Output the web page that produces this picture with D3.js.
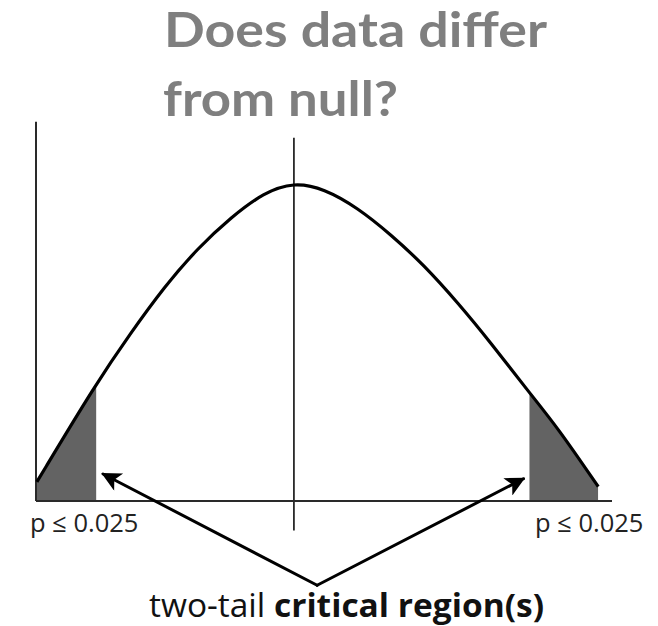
<!DOCTYPE html>
<html>
<head>
<meta charset="utf-8">
<script src="https://cdn.jsdelivr.net/npm/d3@7"></script>
<style>
  body { margin: 0; background: #fff; }
  svg { display: block; }
</style>
</head>
<body>
<svg id="chart" width="658" height="626"></svg>
<script>
// Null distribution, sampled along the test statistic (z) axis
const curveZ       = [-2.99, -2.30, -1.90, -1.51, -1.12, -0.73, -0.35, 0.00, 0.35, 0.74, 1.13, 1.51, 1.91, 2.29, 2.74, 3.07, 3.54];
const curveDensity = [0.024, 0.148, 0.211, 0.269, 0.318, 0.357, 0.388, 0.401, 0.393, 0.369, 0.335, 0.297, 0.249, 0.199, 0.136, 0.092, 0.018];

// Rejection regions in each tail
const criticalLeft  = [-2.99, -2.30];
const criticalRight = [2.74, 3.54];
const tailLabels = ["p \u2264 0.025", "p \u2264 0.025"];

const titleLines = ["Does data differ", "from null?"];
const captionPlain = "two-tail ";
const captionBold = "critical region(s)";

// Annotation arrows: shared origin under the axis, one head pointing at each tail
const arrowOrigin = [0.27, -0.106];
const arrowTips = [[-2.22, 0.034], [2.67, 0.028]];

const svg = d3.select("#chart");
const x = d3.scaleLinear().domain([-3, 3.7]).range([36, 612]);
const y = d3.scaleLinear().domain([0, 0.4]).range([501, 183]);

const pts = curveZ.map((z, i) => [z, curveDensity[i]]);
const curveType = d3.curveBasis;

// Title
const title = svg.append("g")
  .attr("font-family", "Lato, 'Open Sans', sans-serif")
  .attr("font-weight", 700)
  .attr("font-size", 47)
  .attr("fill", "#7f7f7f");
const titleLayout = [{ x: 164, y: 47, w: 383 }, { x: 163, y: 116, w: 235 }];
titleLines.forEach((t, i) => {
  title.append("text")
    .attr("x", titleLayout[i].x)
    .attr("y", titleLayout[i].y)
    .attr("textLength", titleLayout[i].w)
    .attr("lengthAdjust", "spacingAndGlyphs")
    .text(t);
});

// Shaded critical regions (area under the curve clipped to each tail)
const defs = svg.append("defs");
[criticalLeft, criticalRight].forEach((r, i) => {
  defs.append("clipPath").attr("id", "tail" + i)
    .append("rect")
    .attr("x", x(r[0]))
    .attr("width", x(r[1]) - x(r[0]))
    .attr("y", 0)
    .attr("height", y(0));
});
const area = d3.area().x(d => x(d[0])).y0(y(0)).y1(d => y(d[1])).curve(curveType);
[0, 1].forEach(i => {
  svg.append("path")
    .datum(pts)
    .attr("d", area)
    .attr("fill", "#636363")
    .attr("clip-path", `url(#tail${i})`);
});

// Axes: vertical axis on the left, baseline, and the centre line at the null mean
const axisColor = "#2a2a2a";
svg.append("line")
  .attr("x1", x(-3)).attr("x2", x(-3))
  .attr("y1", y(0)).attr("y2", y(0.477))
  .attr("stroke", axisColor).attr("stroke-width", 2);
svg.append("line")
  .attr("x1", x(-3)).attr("x2", x(3.7))
  .attr("y1", y(0)).attr("y2", y(0))
  .attr("stroke", axisColor).attr("stroke-width", 2);
svg.append("line")
  .attr("x1", x(0)).attr("x2", x(0))
  .attr("y1", y(0.457)).attr("y2", y(-0.037))
  .attr("stroke", axisColor).attr("stroke-width", 1.8);

// Density curve
const line = d3.line().x(d => x(d[0])).y(d => y(d[1])).curve(curveType);
svg.append("path")
  .datum(pts)
  .attr("d", line)
  .attr("fill", "none")
  .attr("stroke", "#000")
  .attr("stroke-width", 3.2);

// Tail labels
const labelG = svg.append("g")
  .attr("font-family", "'Open Sans', sans-serif")
  .attr("font-size", 25.5)
  .attr("fill", "#222");
labelG.append("text").attr("x", 30).attr("y", 532).text(tailLabels[0]);
labelG.append("text").attr("x", 535).attr("y", 532).text(tailLabels[1]);

// Arrows
defs.append("marker")
  .attr("id", "head")
  .attr("viewBox", "0 0 10 10")
  .attr("refX", 9).attr("refY", 5)
  .attr("markerWidth", 8).attr("markerHeight", 6.5)
  .attr("markerUnits", "strokeWidth")
  .attr("orient", "auto")
  .append("path")
  .attr("d", "M0,0 L10,5 L0,10 L2.5,5 Z")
  .attr("fill", "#000");
arrowTips.forEach(t => {
  svg.append("line")
    .attr("x1", x(arrowOrigin[0])).attr("y1", y(arrowOrigin[1]))
    .attr("x2", x(t[0])).attr("y2", y(t[1]))
    .attr("stroke", "#000")
    .attr("stroke-width", 3)
    .attr("stroke-linecap", "round")
    .attr("marker-end", "url(#head)");
});

// Caption
const cap = svg.append("text")
  .attr("x", 149).attr("y", 617)
  .attr("font-family", "'Open Sans', sans-serif")
  .attr("font-size", 32)
  .attr("fill", "#111")
  .attr("textLength", 395)
  .attr("lengthAdjust", "spacingAndGlyphs");
cap.append("tspan").text(captionPlain);
cap.append("tspan").attr("font-weight", 700).text(captionBold);
</script>
</body>
</html>
